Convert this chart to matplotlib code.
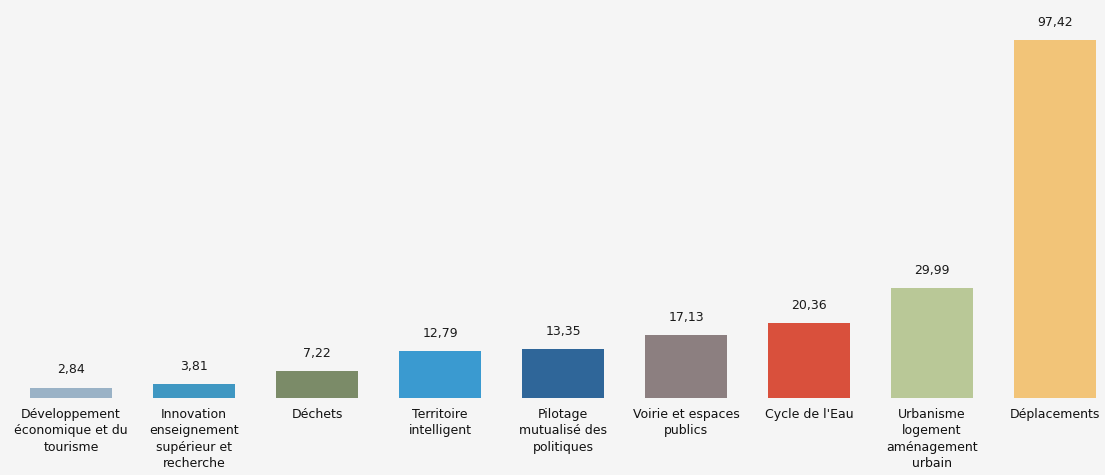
import matplotlib
matplotlib.use("Agg")
import matplotlib.pyplot as plt

categories = [
    "Développement\néconomique et du\ntourisme",
    "Innovation\nenseignement\nsupérieur et\nrecherche",
    "Déchets",
    "Territoire\nintelligent",
    "Pilotage\nmutualisé des\npolitiques",
    "Voirie et espaces\npublics",
    "Cycle de l'Eau",
    "Urbanisme\nlogement\naménagement\nurbain",
    "Déplacements",
]
values = [2.84, 3.81, 7.22, 12.79, 13.35, 17.13, 20.36, 29.99, 97.42]
value_labels = ["2,84", "3,81", "7,22", "12,79", "13,35", "17,13", "20,36", "29,99", "97,42"]
colors = ["#9ab2c6", "#3f97c2", "#7b8b68", "#3a9ad0", "#2f6699",
          "#8c7f80", "#d9503c", "#b9c897", "#f2c478"]

W, H = 1105, 475
fig = plt.figure(figsize=(W / 100, H / 100), dpi=100)
bg = "#f5f5f5"
fig.patch.set_facecolor(bg)
ax = fig.add_axes([0, 77 / H, 1, 398 / H])
ax.set_facecolor(bg)

x = list(range(len(values)))
ax.bar(x, values, width=0.667, color=colors)
ax.set_xlim(-71 / 123, 8 + 50 / 123)
ax.set_ylim(0, 97.42 * 398 / 358)
for xi, v, lab in zip(x, values, value_labels):
    ax.annotate(lab, (xi, v), xytext=(0, 8), textcoords="offset points",
                ha="center", va="bottom", fontsize=9, color="#1a1a1a",
                family="DejaVu Sans Condensed")
for xi, c in zip(x, categories):
    ax.annotate(c, (xi, 0), xytext=(0, -7), textcoords="offset points",
                ha="center", va="top", fontsize=9, color="#111111",
                linespacing=1.35, family="DejaVu Sans Condensed")
for s in ax.spines.values():
    s.set_visible(False)
ax.set_xticks([])
ax.set_yticks([])
fig.savefig("out.png", dpi=100, facecolor=bg)
